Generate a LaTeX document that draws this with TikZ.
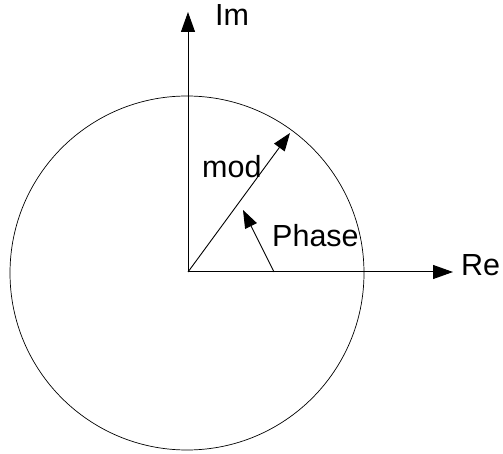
\documentclass[tikz,border=0pt]{standalone}
\usepackage{fontspec}
\setmainfont{Liberation Sans}
\usetikzlibrary{arrows.meta}
\tikzset{
  axis/.style={line width=1pt,-{Triangle[length=20pt,width=14pt]}},
  vec/.style={line width=0.9pt,-{Triangle[length=18pt,width=13pt]}},
  lbl/.style={inner sep=0pt,anchor=base west,font=\fontsize{30.5}{36}\selectfont}
}
\begin{document}
\begin{tikzpicture}[x=1pt,y=-1pt]
  \useasboundingbox (0,0) rectangle (503,454);
  \coordinate (O) at (188,272);
  \coordinate (ReEnd) at (453,272);
  \coordinate (ImEnd) at (188,12);
  \coordinate (ModEnd) at (290,133);
  \coordinate (PhaseFoot) at (274,272);
  \coordinate (PhaseTip) at (243,210);
  % unit circle
  \draw[line width=0.7pt] (187,273) circle[radius=177pt];
  % axes
  \draw[axis] (O) -- (ReEnd);
  \draw[axis] (O) -- (ImEnd);
  % modulus and phase
  \draw[vec] (O) -- (ModEnd);
  \draw[vec] (PhaseFoot) -- (PhaseTip);
  \node[lbl] (re) at (461,276) {Re};
  \node[lbl] (im) at (215,26) {Im};
  \node[lbl] (mod) at (202,178) {mod};
  \node[lbl] (phase) at (272,247) {Phase};
\end{tikzpicture}
\end{document}
